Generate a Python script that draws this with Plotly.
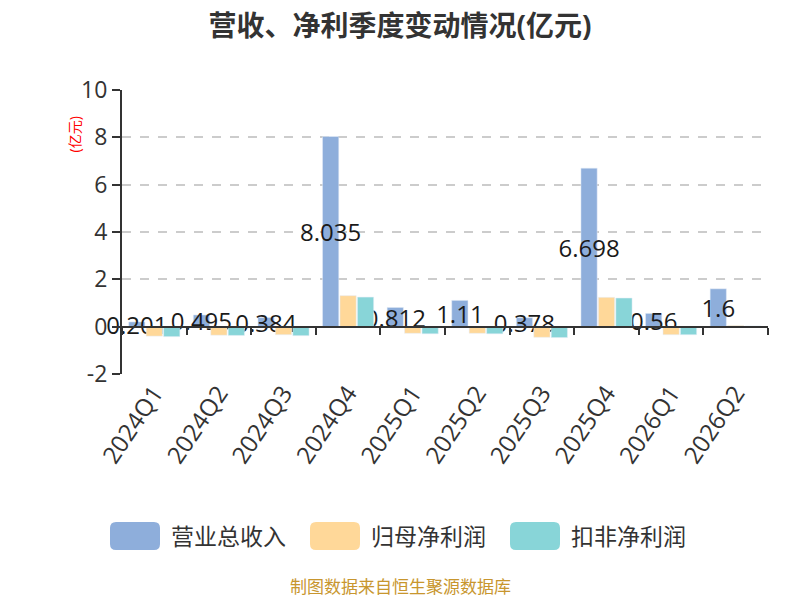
import plotly.graph_objects as go

# quarterly figures, 亿元
quarters = ["2024Q1", "2024Q2", "2024Q3", "2024Q4", "2025Q1",
            "2025Q2", "2025Q3", "2025Q4", "2026Q1", "2026Q2"]
revenue = [0.201, 0.495, 0.384, 8.035, 0.812, 1.11, 0.378, 6.698, 0.56, 1.6]
net_profit = [-0.40, -0.36, -0.34, 1.31, -0.28, -0.28, -0.45, 1.24, -0.34, 0.05]
net_profit_ex = [-0.42, -0.37, -0.38, 1.25, -0.30, -0.30, -0.46, 1.21, -0.34, 0.03]

series_names = ["营业总收入", "归母净利润", "扣非净利润"]
series_colors = ["#8EAEDB", "#FFD899", "#88D5D8"]

y_tick_values = [-2, 0, 2, 4, 6, 8, 10]
y_tick_labels = ["-2", "0", "2", "4", "6", "8", "10"]

font_family = "Open Sans, Noto Sans CJK SC, sans-serif"

# page body has an 8px margin, so the figure is a bit smaller than the window
W, H = 792, 592
L, R, T, B = 114, 32, 82, 226
PW, PH = W - L - R, H - T - B


def px_x(sx):
    # screen x -> paper x
    return (sx - 8 - L) / PW


def px_y(sy):
    # screen y -> paper y
    return (H - B - (sy - 8)) / PH


def rounded_rect(w, h, r):
    x0, x1, y0, y1 = -w / 2, w / 2, -h / 2, h / 2
    return (f"M{x0 + r},{y0} L{x1 - r},{y0} Q{x1},{y0} {x1},{y0 + r} "
            f"L{x1},{y1 - r} Q{x1},{y1} {x1 - r},{y1} L{x0 + r},{y1} "
            f"Q{x0},{y1} {x0},{y1 - r} L{x0},{y0 + r} Q{x0},{y0} {x0 + r},{y0} Z")


fig = go.Figure()

fig.add_trace(go.Bar(
    x=quarters, y=revenue, name=series_names[0],
    marker=dict(color=series_colors[0]),
    text=[str(v) for v in revenue],
    textposition="inside",
    insidetextanchor="middle",
    textangle=0,
    constraintext="none",
    textfont=dict(size=24, color="#1a1a1a"),
    cliponaxis=False,
))
fig.add_trace(go.Bar(
    x=quarters, y=net_profit, name=series_names[1],
    marker=dict(color=series_colors[1]),
))
fig.add_trace(go.Bar(
    x=quarters, y=net_profit_ex, name=series_names[2],
    marker=dict(color=series_colors[2]),
))

# custom legend with large rounded swatches
legend_x = [135, 335, 535]
for name, color, sx in zip(series_names, series_colors, legend_x):
    fig.add_shape(
        type="path", xref="paper", yref="paper",
        xsizemode="pixel", ysizemode="pixel",
        xanchor=px_x(sx), yanchor=px_y(536),
        path=rounded_rect(50, 28, 6),
        fillcolor=color, line=dict(width=0),
    )
    fig.add_annotation(
        x=px_x(sx + 34), y=px_y(536), xref="paper", yref="paper",
        text=name, showarrow=False, xanchor="left", yanchor="middle",
        font=dict(size=23, color="#333333"),
    )

# y axis unit label
fig.add_annotation(
    x=px_x(62), y=px_y(115), xref="paper", yref="paper",
    text="(亿元)", textangle=-90, showarrow=False,
    font=dict(size=14, color="red"),
)

# data source note
fig.add_annotation(
    x=px_x(400), y=px_y(600), xref="paper", yref="paper",
    text="制图数据来自恒生聚源数据库", showarrow=False,
    font=dict(size=17, color="#C8962E"),
)

fig.update_layout(
    width=W, height=H,
    margin=dict(l=L, r=R, t=T, b=B, autoexpand=False),
    title=dict(text="<b>营收、净利季度变动情况(亿元)</b>", x=px_x(400), xanchor="center",
               xref="paper", y=(H - 18) / H, yanchor="middle",
               font=dict(size=28, color="#333333")),
    font=dict(family=font_family, color="#333333"),
    plot_bgcolor="white",
    paper_bgcolor="white",
    showlegend=False,
    barmode="group",
    bargap=0.19,
    bargroupgap=0.07,
    xaxis=dict(
        anchor="free", position=2 / 12, automargin=False,
        showline=True, linecolor="#333333", linewidth=2,
        ticks="outside", tickson="boundaries", ticklen=7, tickwidth=2, tickcolor="#333333",
        tickangle=-56, tickfont=dict(size=24, color="#333333"),
        ticklabelstandoff=42,
        showgrid=False,
    ),
    yaxis=dict(
        range=[-2, 10], tickvals=y_tick_values, ticktext=y_tick_labels, automargin=False,
        showline=True, linecolor="#333333", linewidth=2,
        ticks="outside", ticklen=8, tickwidth=2, tickcolor="#333333",
        tickfont=dict(size=23, color="#333333"),
        showgrid=True, gridcolor="#CCCCCC", griddash="dash", gridwidth=1.5,
        zeroline=False,
    ),
)

fig.write_html("out.html")
